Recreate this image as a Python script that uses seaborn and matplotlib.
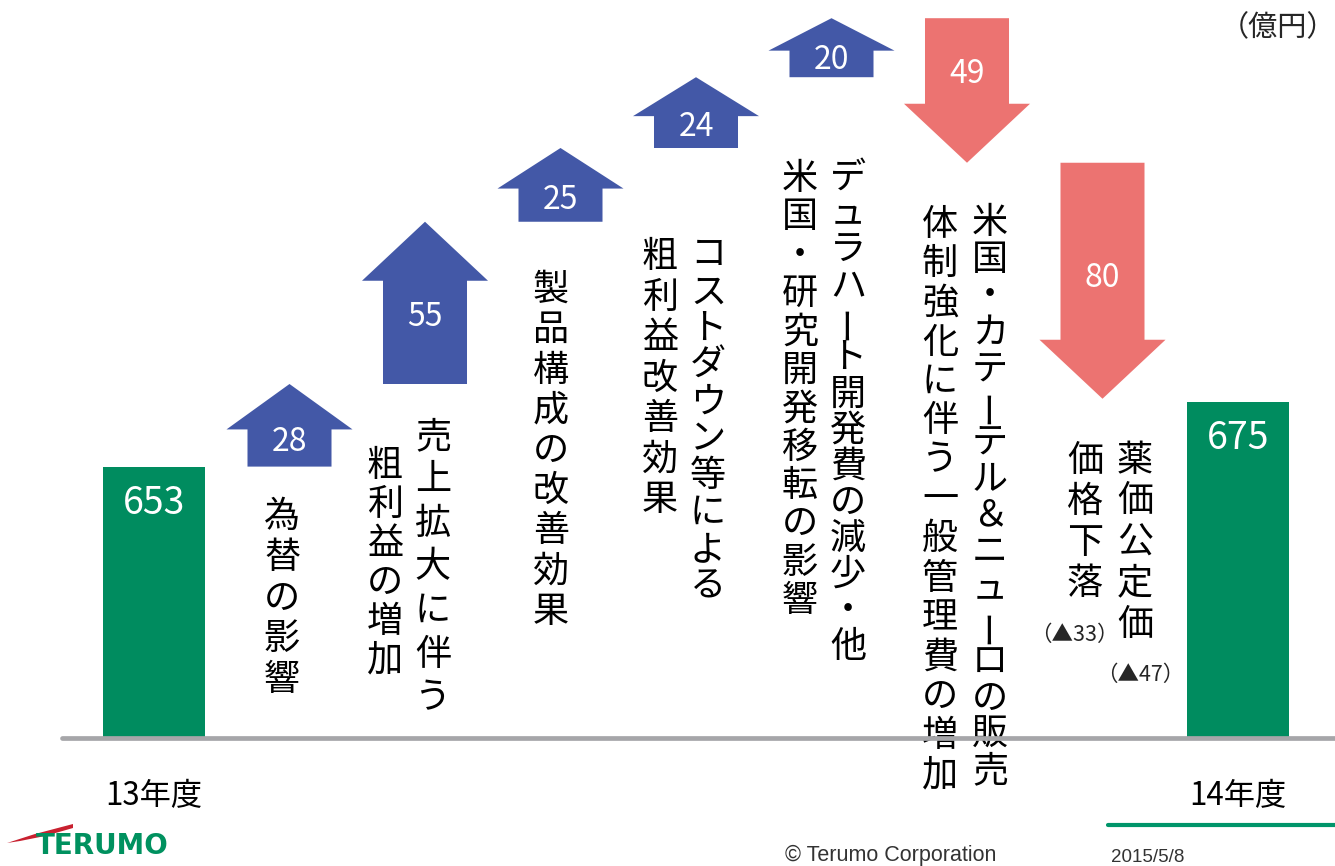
import matplotlib
matplotlib.use("Agg")
import matplotlib.pyplot as plt
from matplotlib.patches import FancyArrow, Polygon
from matplotlib.lines import Line2D
import seaborn as sns

# ---- data ----
start_label, end_label = "13年度", "14年度"
start_value, end_value = 653, 675
step_values = [28, 55, 25, 24, 20, -49, -80]
step_texts = [
    ["為替の影響"],
    ["売上拡大に伴う", "粗利益の増加"],
    ["製品構成の改善効果"],
    ["コストダウン等による", "粗利益改善効果"],
    ["デュラハート開発費の減少・他", "米国・研究開発移転の影響"],
    ["米国・カテーテル＆ニューロの販売", "体制強化に伴う一般管理費の増加"],
    ["薬価公定価", "価格下落"],
]
price_notes = ["（▲33）", "（▲47）"]
unit_label = "（億円）"

# ---- style ----
GREEN = "#008C5F"
BLUE = "#4358A7"
RED = "#EC7371"
GRAY = "#A6A6A9"

sns.set_theme(style="white")
plt.rcParams["font.family"] = ["Noto Sans CJK JP", "DejaVu Sans"]

W, H = 1335, 866
fig = plt.figure(figsize=(W / 100, H / 100), dpi=100)
base_px = 738
ax = fig.add_axes([0, (H - base_px) / H, 1, base_px / H])
ax.set_facecolor("none")

order = [start_label] + [t[0] for t in step_texts] + [end_label]
sns.barplot(x=[start_label, end_label], y=[start_value, end_value], order=order,
            color=GREEN, width=0.75, linewidth=0, saturation=1, ax=ax)

# truncated value axis (schematic waterfall)
y_low, px_per_unit = 561, 2.95
ax.set_ylim(y_low, y_low + base_px / px_per_unit)
step_px = 135.5
ax.set_xlim(-154 / step_px, (W - 154) / step_px)

for x, v in [(0, start_value), (len(order) - 1, end_value)]:
    ax.annotate(str(v), (x, v), xytext=(0, -37), textcoords="offset pixels",
                ha="center", va="center", color="white", fontsize=27)

cum = start_value
for i, v in enumerate(step_values):
    x = i + 1
    head = min(0.55 * abs(v), 20)
    ax.add_patch(FancyArrow(x, cum, 0, v, width=0.62, head_width=0.93,
                            head_length=head, length_includes_head=True,
                            color=BLUE if v > 0 else RED, lw=0, zorder=3))
    sign = 1 if v > 0 else -1
    shaft = abs(v) - head
    head_base = cum + sign * shaft
    ax.text(x, head_base - sign * 0.35 * shaft, str(abs(v)), ha="center",
            va="center", color="white", fontsize=23, zorder=4)
    cum += v

ax.set_xticks([0, len(order) - 1], [start_label, end_label])
ax.tick_params(axis="x", length=0, pad=30, labelsize=22.5, labelcolor="black")
ax.set_yticks([])
ax.set_xlabel("")
ax.set_ylabel("")
for sp in ax.spines.values():
    sp.set_visible(False)

fig.add_artist(Line2D([62 / W, 1], [1 - base_px / H] * 2, color=GRAY, lw=3.4, zorder=5))

# ---- vertical Japanese text columns (px layout: x, top, bottom) ----
col_layout = [
    [(282, 497, 700)],
    [(433, 415, 720), (385, 447, 680)],
    [(551, 270, 632)],
    [(708, 237, 605), (660, 237, 520)],
    [(848, 160, 665), (800, 160, 620)],
    [(990, 205, 790), (940, 205, 795)],
    [(1135, 440, 645), (1085, 440, 605)],
]


def vcolumn(s, x_px, top_px, bot_px, size=26):
    pitch = (bot_px - top_px) / len(s)
    for k, ch in enumerate(s):
        y = top_px + pitch * (k + 0.5)
        rot = 90 if ch == "ー" else 0
        fig.text(x_px / W, 1 - y / H, ch, ha="center", va="center",
                 fontsize=size, rotation=rot, color="black")


for lines, layout in zip(step_texts, col_layout):
    for s, (xp, tp, bp) in zip(lines, layout):
        vcolumn(s, xp, tp, bp)

fig.text(1074 / W, 1 - 635 / H, price_notes[0], ha="center", va="center", fontsize=15.5)
fig.text(1140 / W, 1 - 675 / H, price_notes[1], ha="center", va="center", fontsize=15.5)
fig.text(1278 / W, 1 - 28 / H, unit_label, ha="center", va="center", fontsize=21)

# ---- footer ----
fig.add_artist(Line2D([1108 / W, 1], [1 - 825 / H] * 2, color="#00956A", lw=3))
fig.text(891 / W, 1 - 855 / H, "© Terumo Corporation", ha="center", va="center",
         fontsize=15.5, color="#333333", family=["Liberation Sans", "DejaVu Sans"])
fig.text(1148 / W, 1 - 857 / H, "2015/5/8", ha="center", va="center",
         fontsize=13.5, color="#333333", family=["Liberation Sans", "DejaVu Sans"])
fig.text(36 / W, 1 - 846 / H, "TERUMO", ha="left", va="center", fontsize=20,
         fontweight="heavy", color="#00915F", family=["DejaVu Sans"])
swoosh = [(7, 843), (35, 834), (73, 824), (73, 828), (45, 836), (20, 841)]
fig.add_artist(Polygon([(x / W, 1 - y / H) for x, y in swoosh], closed=True,
                       transform=fig.transFigure, color="#C8202F", lw=0))

fig.savefig("out.png", dpi=100)
